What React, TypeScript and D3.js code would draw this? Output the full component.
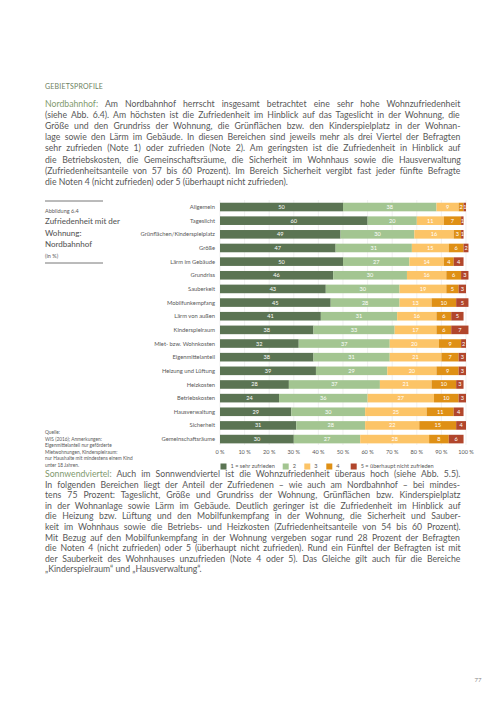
import React from 'react';
import * as d3 from 'd3';

const categories = ['Allgemein', 'Tageslicht', 'Grünflächen/Kinderspielplatz', 'Größe', 'Lärm im Gebäude', 'Grundriss', 'Sauberkeit', 'Mobilfunkempfang', 'Lärm von außen', 'Kinderspielraum', 'Miet- bzw. Wohnkosten', 'Eigenmittelanteil', 'Heizung und Lüftung', 'Heizkosten', 'Betriebskosten', 'Hausverwaltung', 'Sicherheit', 'Gemeinschaftsräume'];
const note1 = [50, 60, 49, 47, 50, 46, 43, 45, 41, 38, 32, 38, 39, 28, 24, 29, 31, 30];
const note2 = [38, 20, 30, 31, 27, 30, 30, 28, 31, 33, 37, 31, 29, 37, 36, 30, 28, 27];
const note3 = [9, 11, 16, 15, 14, 16, 19, 13, 16, 17, 20, 21, 20, 21, 27, 25, 22, 28];
const note4 = [2, 7, 3, 6, 4, 6, 5, 10, 6, 6, 9, 7, 9, 10, 10, 11, 15, 8];
const note5 = [1, 1, 1, 2, 4, 3, 3, 5, 5, 7, 2, 3, 3, 3, 3, 4, 4, 6];
const seriesKeys = ['n1', 'n2', 'n3', 'n4', 'n5'];
const legendLabels = ['1 = sehr zufrieden', '2', '3', '4', '5 = überhaupt nicht zufrieden'];
const tickValues = [0, 10, 20, 30, 40, 50, 60, 70, 80, 90, 100];

const para1 = [
  'Nordbahnhof: Am Nordbahnhof herrscht insgesamt betrachtet eine sehr hohe Wohnzufriedenheit',
  '(siehe Abb. 6.4). Am höchsten ist die Zufriedenheit im Hinblick auf das Tageslicht in der Wohnung, die',
  'Größe und den Grundriss der Wohnung, die Grünflächen bzw. den Kinderspielplatz in der Wohnan-',
  'lage sowie den Lärm im Gebäude. In diesen Bereichen sind jeweils mehr als drei Viertel der Befragten',
  'sehr zufrieden (Note 1) oder zufrieden (Note 2). Am geringsten ist die Zufriedenheit in Hinblick auf',
  'die Betriebskosten, die Gemeinschaftsräume, die Sicherheit im Wohnhaus sowie die Hausverwaltung',
  '(Zufriedenheitsanteile von 57 bis 60 Prozent). Im Bereich Sicherheit vergibt fast jeder fünfte Befragte',
  'die Noten 4 (nicht zufrieden) oder 5 (überhaupt nicht zufrieden).',
];
const para2 = [
  'Sonnwendviertel: Auch im Sonnwendviertel ist die Wohnzufriedenheit überaus hoch (siehe Abb. 5.5).',
  'In folgenden Bereichen liegt der Anteil der Zufriedenen – wie auch am Nordbahnhof – bei mindes-',
  'tens 75 Prozent: Tageslicht, Größe und Grundriss der Wohnung, Grünflächen bzw. Kinderspielplatz',
  'in der Wohnanlage sowie Lärm im Gebäude. Deutlich geringer ist die Zufriedenheit im Hinblick auf',
  'die Heizung bzw. Lüftung und den Mobilfunkempfang in der Wohnung, die Sicherheit und Sauber-',
  'keit im Wohnhaus sowie die Betriebs- und Heizkosten (Zufriedenheitsanteile von 54 bis 60 Prozent).',
  'Mit Bezug auf den Mobilfunkempfang in der Wohnung vergeben sogar rund 28 Prozent der Befragten',
  'die Noten 4 (nicht zufrieden) oder 5 (überhaupt nicht zufrieden). Rund ein Fünftel der Befragten ist mit',
  'der Sauberkeit des Wohnhauses unzufrieden (Note 4 oder 5). Das Gleiche gilt auch für die Bereiche',
  '„Kinderspielraum“ und „Hausverwaltung“.',
];
const sourceLines = ['Quelle:', 'WIS (2016); Anmerkungen:', 'Eigenmittelanteil nur geförderte', 'Mietwohnungen, Kinderspielraum:', 'nur Haushalte mit mindestens einem Kind', 'unter 18 Jahren.'];

const COLORS = ['#5b7453', '#a3c591', '#fcc467', '#df9015', '#b1462c'];
const FONT = 'Lato, "Open Sans", sans-serif';
const TEXT = '#585858';
const GREEN_TXT = '#7f9a6e';
const PARA_SIZE = 8.7;

let ctx: CanvasRenderingContext2D | null = null;
function measure(s: string): number {
  if (typeof document === 'undefined') return s.length * 4.4;
  if (!ctx) ctx = document.createElement('canvas').getContext('2d');
  if (!ctx) return s.length * 4.4;
  ctx.font = `${PARA_SIZE}px Lato`;
  return ctx.measureText(s).width;
}

export default function App() {
  const W = 504, H = 712;
  const x = d3.scaleLinear().domain([0, 100]).range([220, 466]);
  const y = d3.scaleBand<string>().domain(categories).range([200.2, 445.9]).paddingInner(0.37).paddingOuter(0.185);
  const rows = categories.map((c, i) => ({ cat: c, n1: note1[i], n2: note2[i], n3: note3[i], n4: note4[i], n5: note5[i] }));
  const stack = d3.stack<any>().keys(seriesKeys)(rows);
  const bw = y.bandwidth();

  const paraLeft = 45, paraRight = 461;
  const renderPara = (lines: string[], y0: number, lh: number) =>
    lines.map((ln, i) => {
      const last = i === lines.length - 1;
      const yy = y0 + i * lh;
      const spaces = (ln.match(/ /g) || []).length;
      const ws = last || spaces === 0 ? 0 : Math.max(-1.2, (paraRight - paraLeft - measure(ln)) / spaces);
      let lead = '';
      let rest = ln;
      if (i === 0) {
        const idx = ln.indexOf(':') + 1;
        lead = ln.slice(0, idx);
        rest = ln.slice(idx);
      }
      return (
        <text key={i} x={paraLeft} y={yy} fontSize={PARA_SIZE} fill={TEXT} wordSpacing={ws} style={{ whiteSpace: 'pre' }}>
          {lead ? <tspan fill={GREEN_TXT}>{lead}</tspan> : null}
          {rest}
        </text>
      );
    });

  const legendX = [220.5, 282.7, 304.3, 326.3, 350.7];

  return (
    <svg width={W} height={H} style={{ position: 'absolute', left: 0, top: 0, background: '#fff' }} fontFamily={FONT}>
      <rect width={W} height={H} fill="#fff" />
      <text x={45} y={88.5} fontSize={7} fill="#6d7f62" letterSpacing={0.2}>GEBIETSPROFILE</text>
      {renderPara(para1, 106.5, 11.2)}

      {/* title block */}
      <line x1={45} x2={103} y1={201} y2={201} stroke="#777" strokeWidth={1} />
      <text x={45} y={213} fontSize={5.5} fill={TEXT}>Abbildung 6.4</text>
      <text x={45} y={224} fontSize={8} fill={TEXT} fontWeight={500}>Zufriedenheit mit der</text>
      <text x={45} y={235.5} fontSize={8} fill={TEXT} fontWeight={500}>Wohnung:</text>
      <text x={45} y={247} fontSize={8} fill={TEXT} fontWeight={500}>Nordbahnhof</text>
      <text x={45} y={258} fontSize={5.5} fill={TEXT}>(in %)</text>
      <line x1={45} x2={103} y1={263} y2={263} stroke="#777" strokeWidth={1} />

      {/* gridlines */}
      {tickValues.map((t) => (
        <line key={t} x1={x(t)} x2={x(t)} y1={200} y2={445} stroke="#e6e6e6" strokeWidth={0.6} />
      ))}

      {/* category labels */}
      {categories.map((c) => (
        <text key={c} x={215} y={(y(c) as number) + bw / 2} dy="0.35em" fontSize={5.8} fill={TEXT} textAnchor="end">{c}</text>
      ))}

      {/* bars */}
      {stack.map((s, si) => (
        <g key={s.key}>
          {s.map((d, i) => (
            <g key={i}>
              <rect x={x(d[0])} y={y(categories[i]) as number} width={x(d[1]) - x(d[0])} height={bw} fill={COLORS[si]} />
              <text x={(x(d[0]) + x(d[1])) / 2} y={(y(categories[i]) as number) + bw / 2} dy="0.36em" fontSize={5.6} fill="#fff" textAnchor="middle">
                {d[1] - d[0]}
              </text>
            </g>
          ))}
        </g>
      ))}

      {/* ticks */}
      {tickValues.map((t) => (
        <text key={t} x={x(t)} y={452} dy="0.35em" fontSize={5.6} fill={TEXT} textAnchor="middle">{t} %</text>
      ))}

      {/* legend */}
      {legendLabels.map((l, i) => (
        <g key={l}>
          <rect x={legendX[i]} y={463.5} width={6} height={6} fill={COLORS[i]} />
          <text x={legendX[i] + 10} y={466.5} dy="0.35em" fontSize={5.6} fill={TEXT}>{l}</text>
        </g>
      ))}

      {/* source */}
      {sourceLines.map((s, i) => (
        <text key={i} x={45} y={434 + i * 6.6} fontSize={4.8} fill={TEXT}>{s}</text>
      ))}

      {renderPara(para2, 477, 10.6)}

      <text x={478} y={682} fontSize={6} fill="#888" textAnchor="middle">77</text>
    </svg>
  );
}
